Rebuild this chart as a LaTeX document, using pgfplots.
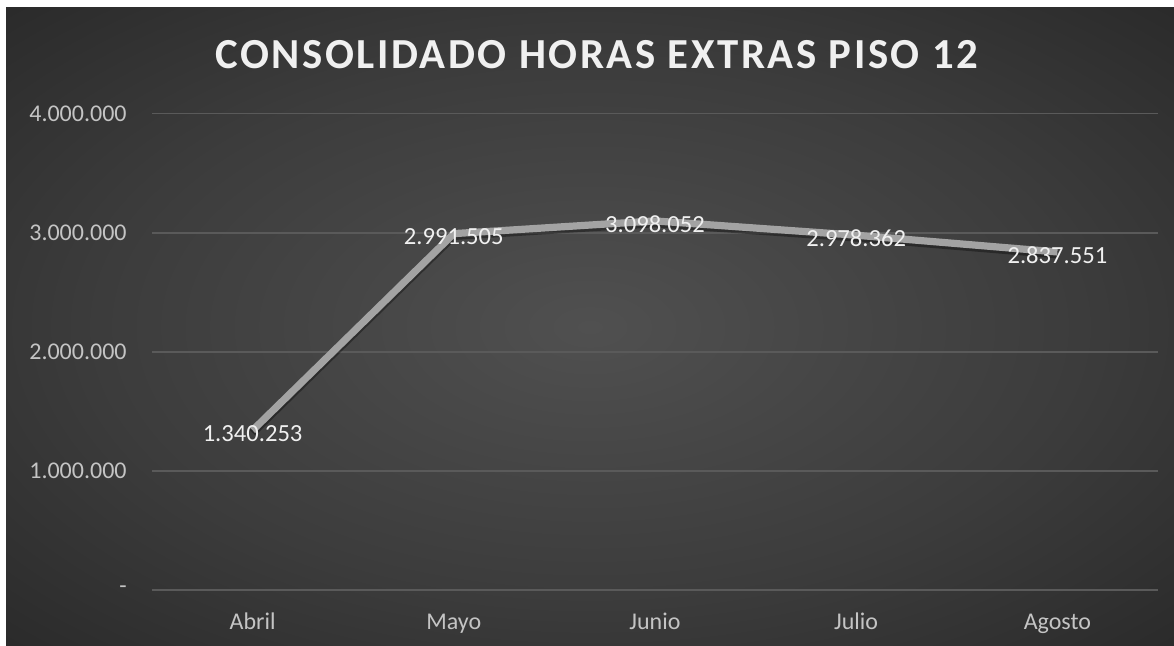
\documentclass[border=0pt]{standalone}
\usepackage{pgfplots}
\pgfplotsset{compat=1.18}
\usepackage{fontspec}
\setmainfont{Carlito}
\newfontfamily\titlefont[LetterSpace=6]{Carlito}
\definecolor{bgA}{HTML}{505050}
\definecolor{bgB}{HTML}{3C3C3C}
\definecolor{bgC}{HTML}{2A2A2A}
\definecolor{gridc}{HTML}{5A5A5A}
\definecolor{linec}{HTML}{A3A3A3}
\definecolor{tickc}{HTML}{C4C4C4}
\definecolor{labc}{HTML}{F0F0F0}
\pgfdeclareradialshading{bgshade}{\pgfpoint{0bp}{0bp}}{color(0bp)=(bgA); color(21bp)=(bgB); color(36bp)=(bgC); color(50bp)=(bgC)}
\begin{document}
\begin{tikzpicture}
\fill[white] (0,0) rectangle (587pt,323pt);
\shade[shading=bgshade] (3pt,0) rectangle (587pt,319pt);
\begin{axis}[
  at={(76pt,28pt)}, anchor=south west,
  scale only axis, width=503pt, height=238.25pt,
  xmin=-0.5, xmax=4.5, ymin=0, ymax=4000000,
  axis line style={draw=none},
  tick style={draw=none},
  ymajorgrids, grid style={gridc, line width=0.9pt},
  xtick={0,1,2,3,4},
  xticklabels={Abril,Mayo,Junio,Julio,Agosto},
  ytick={0,1000000,2000000,3000000,4000000},
  yticklabels={-,1.000.000,2.000.000,3.000.000,4.000.000},
  scaled y ticks=false,
  tick label style={font=\fontsize{12}{14}\selectfont, text=tickc},
  yticklabel style={anchor=east, inner sep=0pt, xshift=-12.5pt},
  xticklabel style={anchor=base, inner sep=0pt, yshift=-20pt},
  title={\titlefont\bfseries CONSOLIDADO HORAS EXTRAS PISO 12},
  title style={at={(axis description cs:0.4420,1)}, anchor=base, yshift=16.6pt, inner sep=0pt, text=labc, font=\fontsize{21.4}{24}\selectfont},
  clip=false,
]
\addplot[black, opacity=0.35, line width=4pt, yshift=-1.2pt, forget plot] coordinates {
  (0,1340253) (1,2991505) (2,3098052) (3,2978362) (4,2837551)};
\addplot[linec, line width=3.6pt, line join=round,
  nodes near coords={\pgfplotspointmeta}, point meta=explicit symbolic,
  every node near coord/.style={anchor=center, yshift=-1.5pt, text=labc, font=\fontsize{12.3}{14}\selectfont, inner sep=0pt}]
  coordinates {
  (0,1340253) [1.340.253]
  (1,2991505) [2.991.505]
  (2,3098052) [3.098.052]
  (3,2978362) [2.978.362]
  (4,2837551) [2.837.551]};
\end{axis}
\end{tikzpicture}
\end{document}
